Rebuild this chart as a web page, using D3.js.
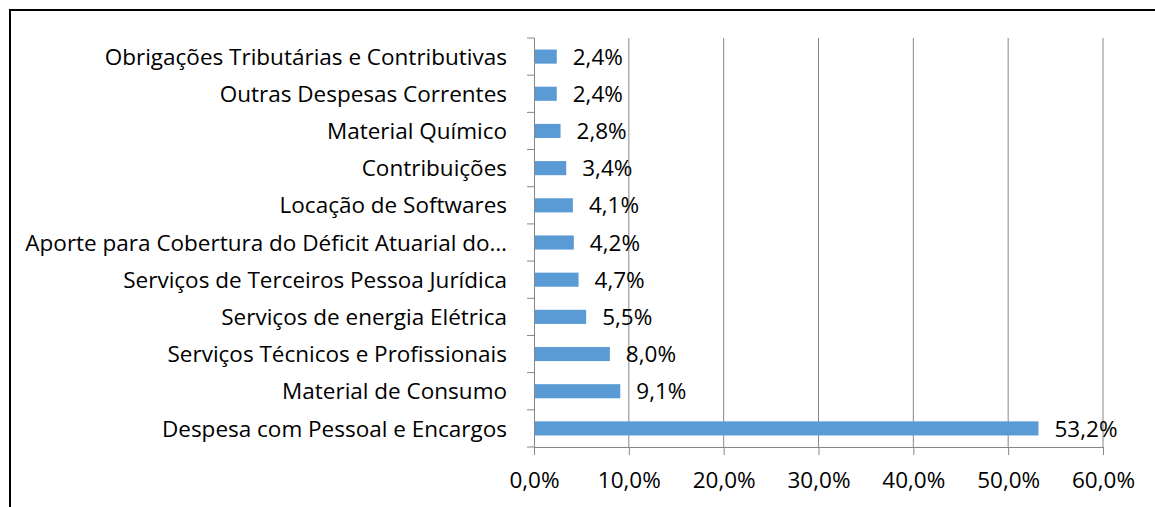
<!DOCTYPE html>
<html>
<head>
<meta charset="utf-8">
<script src="https://cdn.jsdelivr.net/npm/d3@7"></script>
<style>
  body { margin: 0; background: #fff; }
  text { font-family: "Open Sans", "Noto Sans", sans-serif; fill: #000; }
</style>
</head>
<body>
<svg id="chart"></svg>
<script>
var categories = [
  "Obrigações Tributárias e Contributivas",
  "Outras Despesas Correntes",
  "Material Químico",
  "Contribuições",
  "Locação de Softwares",
  "Aporte para Cobertura do Déficit Atuarial do…",
  "Serviços de Terceiros Pessoa Jurídica",
  "Serviços de energia Elétrica",
  "Serviços Técnicos e Profissionais",
  "Material de Consumo",
  "Despesa com Pessoal e Encargos"
]
var values = [2.4, 2.4, 2.8, 3.4, 4.1, 4.2, 4.7, 5.5, 8.0, 9.1, 53.2]
var xTicks = [0, 10, 20, 30, 40, 50, 60]

var screen = {width: 1155, height: 507}
var margin = {top: 38, right: 52, bottom: 60, left: 534}
var w = screen.width - margin.left - margin.right
var h = screen.height - margin.top - margin.bottom
var fontSize = "22.5px"

var fmt = function(v){ return v.toFixed(1).replace(".", ",") + "%" }

var svg = d3.select("#chart")
  .attr("width", screen.width)
  .attr("height", screen.height)

// outer frame (cut by the picture edges)
svg.append("rect")
  .attr("x", 10).attr("y", 10)
  .attr("width", 1200).attr("height", 600)
  .attr("fill", "none")
  .attr("stroke", "#000")
  .attr("stroke-width", 2)

var chart = svg.append("g")
  .attr("transform", "translate(" + margin.left + "," + margin.top + ")")

var xScale = d3.scaleLinear().domain([0, 60]).range([0, w])
var yScale = d3.scaleBand().domain(categories).range([0, h]).paddingInner(0.62).paddingOuter(0.31)

// gridlines
chart.selectAll(".grid")
  .data(xTicks.slice(1))
  .enter().append("line")
  .attr("x1", function(d){ return xScale(d) })
  .attr("x2", function(d){ return xScale(d) })
  .attr("y1", 0).attr("y2", h)
  .attr("stroke", "#868686").attr("stroke-width", 1)

// bars
chart.selectAll(".bar")
  .data(values)
  .enter().append("rect")
  .attr("x", xScale(0))
  .attr("y", function(d, i){ return yScale(categories[i]) })
  .attr("width", function(d){ return xScale(d) - xScale(0) })
  .attr("height", yScale.bandwidth())
  .attr("fill", "#5B9BD5")

// value labels
chart.selectAll(".val")
  .data(values)
  .enter().append("text")
  .attr("x", function(d){ return xScale(d) + 16 })
  .attr("y", function(d, i){ return yScale(categories[i]) + yScale.bandwidth() / 2 })
  .attr("dy", "0.36em")
  .style("font-size", fontSize)
  .text(function(d){ return fmt(d) })

// x axis
var xAxis = d3.axisBottom(xScale)
  .tickValues(xTicks)
  .tickSize(8)
  .tickPadding(17)
  .tickFormat(fmt)

var gx = chart.append("g")
  .attr("transform", "translate(0," + h + ")")
  .call(xAxis)
gx.select(".domain").attr("stroke", "#868686").attr("d", "M0,0.5H" + w)
gx.selectAll(".tick line").attr("stroke", "#868686")
gx.selectAll("text").style("font-size", fontSize).attr("fill", "#000")

// y axis: ticks at category boundaries
var step = h / categories.length
var gy = chart.append("g")
gy.append("line")
  .attr("x1", 0.5).attr("x2", 0.5).attr("y1", 0).attr("y2", h)
  .attr("stroke", "#868686")
gy.selectAll(".ytick")
  .data(d3.range(categories.length + 1))
  .enter().append("line")
  .attr("x1", -7).attr("x2", 0)
  .attr("y1", function(d){ return d * step })
  .attr("y2", function(d){ return d * step })
  .attr("stroke", "#868686")
gy.selectAll(".ylab")
  .data(categories)
  .enter().append("text")
  .attr("x", -27)
  .attr("y", function(d){ return yScale(d) + yScale.bandwidth() / 2 })
  .attr("dy", "0.36em")
  .attr("text-anchor", "end")
  .style("font-size", fontSize)
  .text(function(d){ return d })
</script>
</body>
</html>
